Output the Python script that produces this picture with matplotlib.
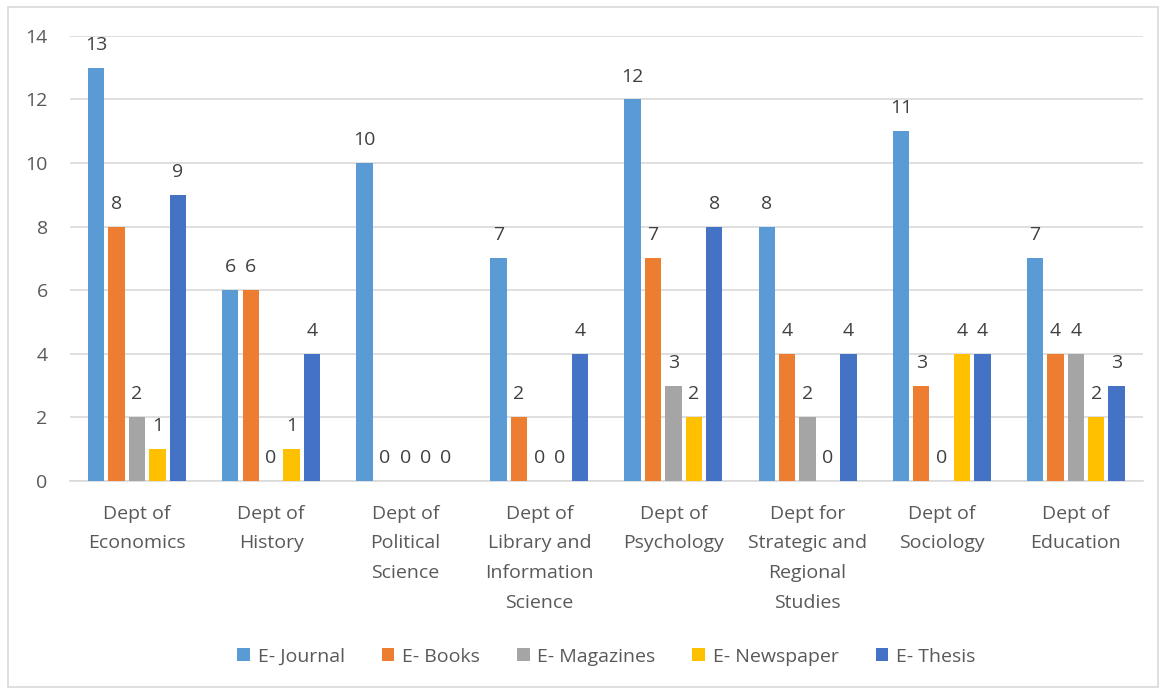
import matplotlib
matplotlib.use("Agg")
import matplotlib.pyplot as plt
import numpy as np
from matplotlib.patches import Rectangle

plt.rcParams['font.family'] = ['Open Sans', 'DejaVu Sans']

departments = ["Dept of\nEconomics", "Dept of\nHistory", "Dept of\nPolitical\nScience",
               "Dept of\nLibrary and\nInformation\nScience", "Dept of\nPsychology",
               "Dept for\nStrategic and\nRegional\nStudies", "Dept of\nSociology",
               "Dept of\nEducation"]
series_names = ["E- Journal", "E- Books", "E- Magazines", "E- Newspaper", "E- Thesis"]
e_journal = [13, 6, 10, 7, 12, 8, 11, 7]
e_books = [8, 6, 0, 2, 7, 4, 3, 4]
e_magazines = [2, 0, 0, 0, 3, 2, 0, 4]
e_newspaper = [1, 1, 0, 0, 2, 0, 4, 2]
e_thesis = [9, 4, 0, 4, 8, 4, 4, 3]
colors = ["#5B9BD5", "#ED7D31", "#A5A5A5", "#FFC000", "#4472C4"]

all_series = [e_journal, e_books, e_magazines, e_newspaper, e_thesis]
text_col = "#595959"
grid_col = "#D9D9D9"

fig = plt.figure(figsize=(11.65, 6.89), dpi=100)
ax = fig.add_axes([0.060, 0.302, 0.921, 0.646])

x = np.arange(len(departments))
step = 0.152
width = 0.122
for i, (vals, name, c) in enumerate(zip(all_series, series_names, colors)):
    offs = (i - 2) * step
    bars = ax.bar(x + offs, vals, width, color=c, label=name, zorder=3)
    ax.bar_label(bars, padding=10, fontsize=14, color="#404040")

ax.set_xlim(-0.5, len(departments) - 0.5)
ax.set_ylim(0, 14)
ax.set_yticks(range(0, 15, 2))
ax.grid(axis="y", color=grid_col, linewidth=1.2, zorder=0)
for s in ["top", "right", "left"]:
    ax.spines[s].set_visible(False)
ax.spines["bottom"].set_color(grid_col)
ax.spines["bottom"].set_linewidth(1.2)
ax.tick_params(axis="both", length=0, labelsize=14, colors=text_col)
ax.tick_params(axis="y", pad=16)
ax.set_xticks(x)
ax.set_xticklabels(departments, linespacing=1.85)
ax.tick_params(axis="x", pad=17)

ax.legend(loc="upper center", bbox_to_anchor=(0.5, -0.335), ncol=5, frameon=False,
          fontsize=14, labelcolor=text_col, handlelength=0.65, handleheight=0.65,
          handletextpad=0.4, columnspacing=1.9)

fig.patches.append(Rectangle((8 / 1165, 2 / 689), 1150 / 1165, 680 / 689,
                             transform=fig.transFigure, fill=False,
                             edgecolor="#D9D9D9", linewidth=1.2))

fig.savefig("out.png", dpi=100)
